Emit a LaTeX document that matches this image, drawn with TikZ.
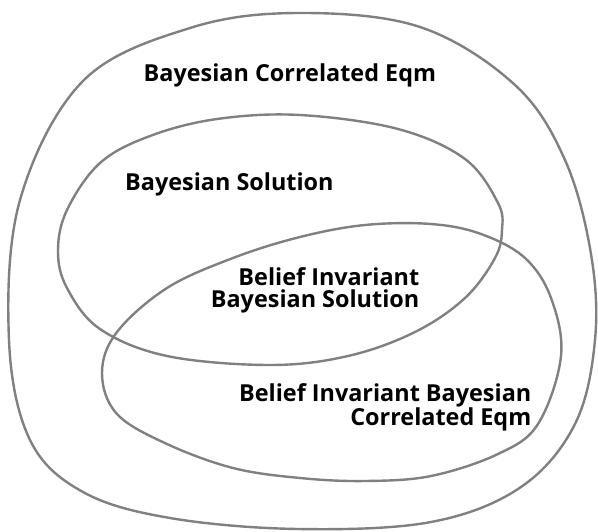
\documentclass[tikz,border=0pt]{standalone}
\usepackage{fontspec}
\setmainfont{Open Sans}
\usepackage{tikz}

\definecolor{setgray}{RGB}{128,128,128}

\begin{document}
\begin{tikzpicture}[x=1pt, y=-1pt,
  setline/.style={draw=setgray, line width=2.4pt},
  settext/.style={inner sep=0pt, font=\bfseries\fontsize{23.4}{22}\selectfont}]
\useasboundingbox (0,0) rectangle (598,531);

% outer set
\draw[setline] plot[smooth cycle, tension=0.6] coordinates {
  (298,13) (420,27) (515,85) (565,160) (591,254) (595,340) (575,424)
  (521,487) (431,522) (298,529) (170,518) (83,492) (30,440) (9,340)
  (20,200) (83,81) (190,28)};

% upper set
\draw[setline] plot[smooth cycle, tension=0.6] coordinates {
  (300,115) (398,129) (465,159) (498,203) (502,230) (495,258) (465,298)
  (415,332) (348,356) (270,365) (167,356) (100,329) (67,288) (58,251)
  (67,210) (100,163) (150,136) (217,119)};

% lower set
\draw[setline] plot[smooth cycle, tension=0.6] coordinates {
  (300,237) (233,258) (167,288) (117,332) (102,373) (117,414) (167,444)
  (233,468) (300,478) (365,481) (431,476) (498,454) (538,424) (561,356)
  (551,298) (525,258) (481,234) (431,224) (365,225)};

\node (bce) at (143.5,81.7) [settext, anchor=base west] {Bayesian Correlated Eqm};
\node (bs) at (125,190) [settext, anchor=base west] {Bayesian Solution};
\node (bibs) at (419.5,307.7) [settext, anchor=base east, align=right]
  {Belief Invariant\\Bayesian Solution};
\node (bibce) at (531.5,425) [settext, anchor=base east, align=right,
  font=\bfseries\fontsize{23.4}{24}\selectfont]
  {Belief Invariant Bayesian\\Correlated Eqm};
\end{tikzpicture}
\end{document}
